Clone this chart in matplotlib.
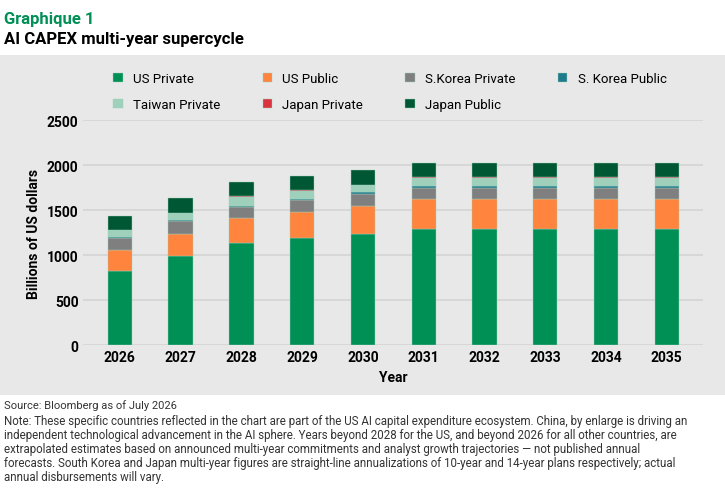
import matplotlib.pyplot as plt
import numpy as np

years = ['2026', '2027', '2028', '2029', '2030', '2031', '2032', '2033', '2034', '2035']
us_private = [820, 990, 1140, 1190, 1240, 1295, 1295, 1295, 1295, 1295]
us_public = [240, 250, 270, 295, 310, 325, 325, 325, 325, 325]
sk_private = [130, 135, 130, 125, 135, 130, 130, 130, 130, 130]
sk_public = [12, 14, 10, 12, 14, 14, 14, 14, 14, 14]
tw_private = [75, 78, 100, 90, 85, 93, 93, 93, 93, 93]
jp_private = [0, 0, 10, 10, 0, 8, 8, 8, 8, 8]
jp_public = [163, 164, 156, 156, 167, 163, 163, 163, 163, 163]

series = [
    ('US Private', us_private, '#008F55'),
    ('US Public', us_public, '#FF843D'),
    ('S.Korea Private', sk_private, '#7F7F7F'),
    ('S. Korea Public', sk_public, '#1F7A8C'),
    ('Taiwan Private', tw_private, '#9FD0BC'),
    ('Japan Private', jp_private, '#D9343F'),
    ('Japan Public', jp_public, '#005733'),
]

plt.rcParams['font.family'] = ['Roboto', 'DejaVu Sans']
fig = plt.figure(figsize=(7.25, 4.89), dpi=100)
fig.patch.set_facecolor('white')

# grey panel behind everything
bg = fig.add_axes([0.0, 0.19, 1.0, 0.695], zorder=-5)
bg.set_facecolor('#E8E8E8')
bg.set_xticks([])
bg.set_yticks([])
for s in bg.spines.values():
    s.set_visible(False)

ax = fig.add_axes([0.115, 0.292, 0.855, 0.46])
ax.set_facecolor('none')
x = np.arange(len(years))
bottom = np.zeros(len(years))
handles = []
for name, vals, col in series:
    h = ax.bar(x, vals, 0.4, bottom=bottom, color=col, label=name,
               edgecolor='#9FD0BC', linewidth=0.3, zorder=3)
    handles.append(h)
    bottom += np.array(vals)

ax.set_ylim(0, 2500)
ax.set_yticks([0, 500, 1000, 1500, 2000, 2500])
ax.set_xlim(-0.6, 9.6)
ax.set_xticks(x)
ax.set_xticklabels(years, fontsize=10, fontweight='bold')
ax.tick_params(axis='y', labelsize=10, length=0)
ax.tick_params(axis='x', length=0)
for lbl in ax.get_yticklabels():
    lbl.set_fontweight('bold')
ax.grid(axis='y', color='#D4D4D4', linewidth=1.2, zorder=0)
for s in ax.spines.values():
    s.set_visible(False)
ax.set_ylabel('Billions of US dollars', fontsize=10, fontweight='bold')
ax.set_xlabel('Year', fontsize=10, fontweight='bold')

# legend filled row by row (matplotlib fills by column)
order = [0, 4, 1, 5, 2, 6, 3]
labels = [s[0] for s in series]
fig.legend([handles[i] for i in order], [labels[i] for i in order],
           loc='upper left', bbox_to_anchor=(0.14, 0.875), ncol=4,
           frameon=False, fontsize=9.5, handlelength=0.7, handleheight=0.7,
           columnspacing=3.2, labelspacing=1.0)

fig.text(0.005, 0.975, 'Graphique 1', fontsize=12, fontweight='bold',
         color='#008F55', va='top')
fig.text(0.005, 0.935, 'AI CAPEX multi-year supercycle', fontsize=12,
         fontweight='bold', va='top')
fig.text(0.005, 0.182, 'Source: Bloomberg as of July 2026', fontsize=8,
         color='#333333', va='top')
note = ('Note: These specific countries reflected in the chart are part of the US AI capital expenditure ecosystem. China, by enlarge is driving an\n'
        'independent technological advancement in the AI sphere. Years beyond 2028 for the US, and beyond 2026 for all other countries, are\n'
        'extrapolated estimates based on announced multi-year commitments and analyst growth trajectories \u2014 not published annual\n'
        'forecasts. South Korea and Japan multi-year figures are straight-line annualizations of 10-year and 14-year plans respectively; actual\n'
        'annual disbursements will vary.')
fig.text(0.005, 0.152, note, fontsize=8.3, color='#333333', va='top',
         linespacing=1.1)

fig.savefig('out.png', dpi=100)
